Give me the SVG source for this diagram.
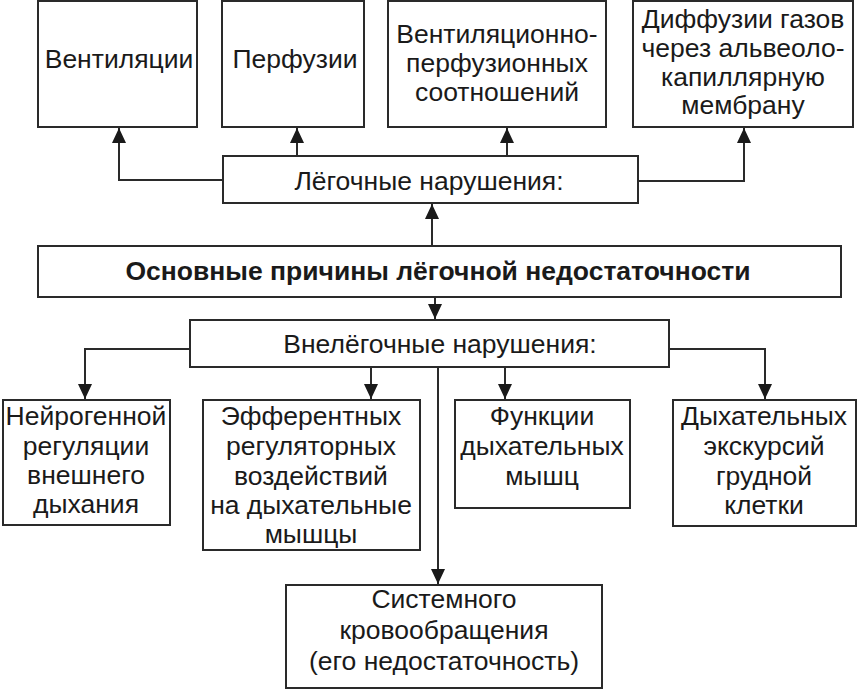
<svg xmlns="http://www.w3.org/2000/svg" width="858" height="690" viewBox="0 0 858 690">
<style>
.b{fill:#fff;stroke:#2a2a2a;stroke-width:2}
.t{font-family:"Liberation Sans",Arial,sans-serif;font-size:26.5px;fill:#1a1a1a;text-anchor:middle}
.bold{font-weight:bold;font-size:26.5px}
.c{fill:none;stroke:#2a2a2a;stroke-width:2}
</style>
<defs>
<marker id="ah" markerUnits="userSpaceOnUse" markerWidth="16" markerHeight="16" viewBox="0 0 16 16" refX="15" refY="8" orient="auto">
<path d="M0,1 L15,8 L0,15 Z" fill="#1a1a1a"/>
</marker>
</defs>
<rect width="858" height="690" fill="#fff"/>
<g id="connectors">
<polyline class="c" points="223,180 119,180 119,128" marker-end="url(#ah)"/>
<line class="c" x1="297" y1="156" x2="297" y2="128" marker-end="url(#ah)"/>
<line class="c" x1="507" y1="156" x2="507" y2="128" marker-end="url(#ah)"/>
<polyline class="c" points="638,181 744,181 744,128" marker-end="url(#ah)"/>
<line class="c" x1="432" y1="246" x2="432" y2="204" marker-end="url(#ah)"/>
<line class="c" x1="435" y1="297" x2="435" y2="319" marker-end="url(#ah)"/>
<polyline class="c" points="190,349 85,349 85,399" marker-end="url(#ah)"/>
<line class="c" x1="371" y1="367" x2="371" y2="399" marker-end="url(#ah)"/>
<line class="c" x1="505" y1="367" x2="505" y2="399" marker-end="url(#ah)"/>
<polyline class="c" points="669,349 765,349 765,399" marker-end="url(#ah)"/>
<line class="c" x1="438" y1="367" x2="438" y2="584" marker-end="url(#ah)"/>
</g>
<g id="n-vent"><rect class="b" x="38" y="1" width="159" height="126"/><text class="t" x="119" y="68">Вентиляции</text></g>
<g id="n-perf"><rect class="b" x="222" y="1" width="142" height="126"/><text class="t" x="295" y="68">Перфузии</text></g>
<g id="n-vp"><rect class="b" x="388" y="1" width="218" height="126"/><text class="t" x="497" y="43">Вентиляционно-</text><text class="t" x="497" y="72">перфузионных</text><text class="t" x="497" y="101">соотношений</text></g>
<g id="n-diff"><rect class="b" x="633" y="1" width="220" height="126"/><text class="t" x="743" y="28">Диффузии газов</text><text class="t" x="743" y="57">через альвеоло-</text><text class="t" x="743" y="86">капиллярную</text><text class="t" x="743" y="114">мембрану</text></g>
<g id="n-pulm"><rect class="b" x="223" y="156" width="415" height="47"/><text class="t" x="429" y="190">Лёгочные нарушения:</text></g>
<g id="n-main"><rect class="b" x="38" y="246" width="803" height="51"/><text class="t bold" x="438" y="280">Основные причины лёгочной недостаточности</text></g>
<g id="n-extra"><rect class="b" x="190" y="320" width="479" height="47"/><text class="t" x="440" y="353">Внелёгочные нарушения:</text></g>
<g id="n-neuro"><rect class="b" x="3" y="400" width="167" height="125"/><text class="t" x="86" y="425">Нейрогенной</text><text class="t" x="86" y="455">регуляции</text><text class="t" x="86" y="484">внешнего</text><text class="t" x="86" y="513">дыхания</text></g>
<g id="n-eff"><rect class="b" x="203" y="400" width="217" height="150"/><text class="t" x="311" y="425">Эфферентных</text><text class="t" x="311" y="455">регуляторных</text><text class="t" x="311" y="485">воздействий</text><text class="t" x="311" y="514">на дыхательные</text><text class="t" x="311" y="543">мышцы</text></g>
<g id="n-func"><rect class="b" x="455" y="400" width="175" height="108"/><text class="t" x="542" y="425">Функции</text><text class="t" x="542" y="455">дыхательных</text><text class="t" x="542" y="485">мышц</text></g>
<g id="n-chest"><rect class="b" x="673" y="400" width="183" height="126"/><text class="t" x="764" y="425">Дыхательных</text><text class="t" x="764" y="455">экскурсий</text><text class="t" x="764" y="485">грудной</text><text class="t" x="764" y="514">клетки</text></g>
<g id="n-sys"><rect class="b" x="286" y="585" width="316" height="103"/><text class="t" x="444" y="608">Системного</text><text class="t" x="444" y="639">кровообращения</text><text class="t" x="444" y="670">(его недостаточность)</text></g>
</svg>
